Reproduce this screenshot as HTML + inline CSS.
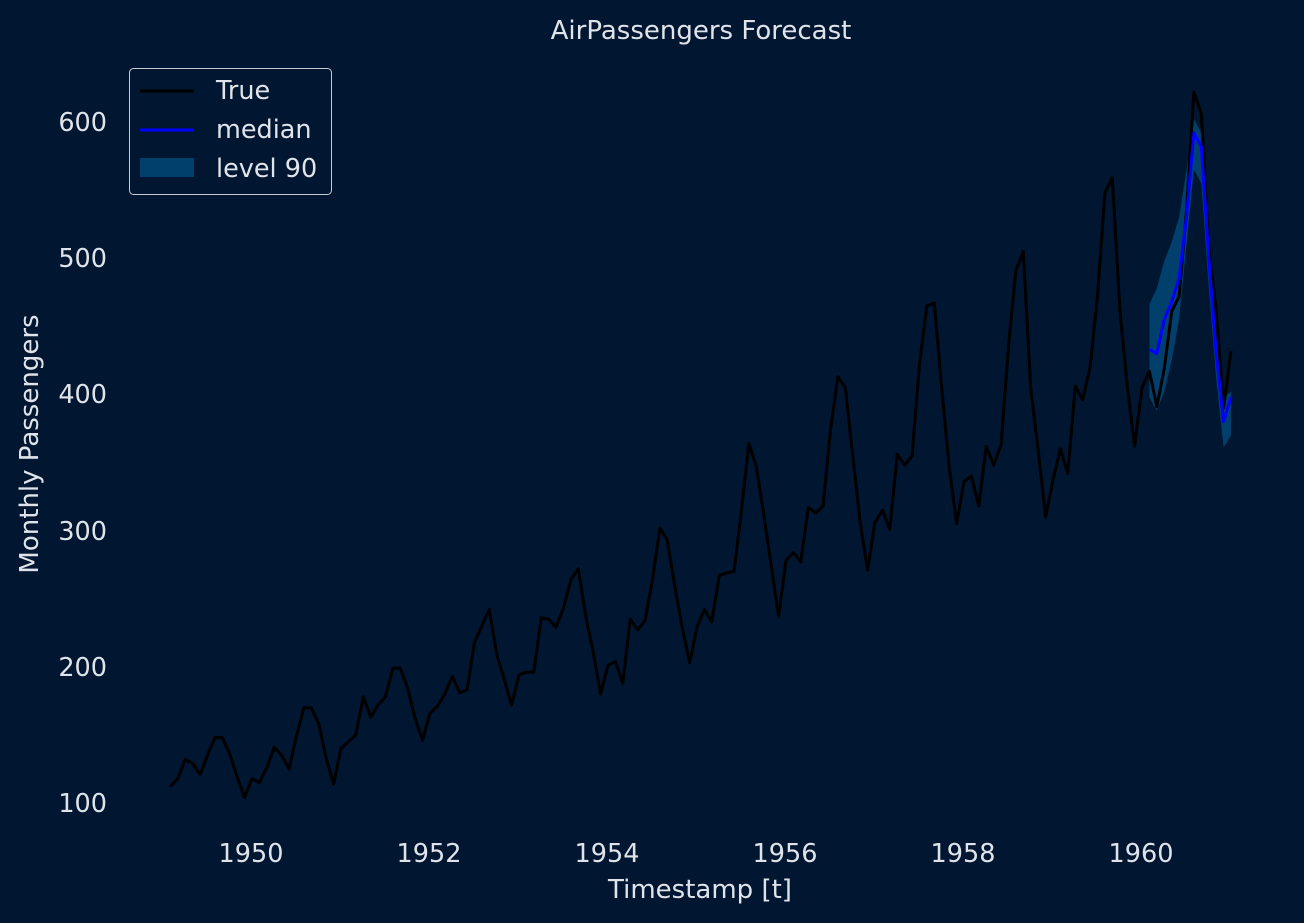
<!DOCTYPE html>
<html><head><meta charset="utf-8">
<style>
html,body{margin:0;padding:0;background:#001631;}
svg{display:block;font-family:"DejaVu Sans","Liberation Sans",sans-serif;}
</style></head>
<body>
<svg id="s" width="1304" height="923" viewBox="0 0 1304 923" xmlns="http://www.w3.org/2000/svg">
<rect width="1304" height="923" fill="#001631"/>
<text x="701" y="39" fill="#e0e4ea" font-size="26" text-anchor="middle">AirPassengers Forecast</text>
<g fill="#e0e4ea" font-size="25.5" text-anchor="end">
<text x="107" y="131">600</text>
<text x="107" y="267">500</text>
<text x="107" y="403">400</text>
<text x="107" y="540">300</text>
<text x="107" y="676">200</text>
<text x="107" y="812">100</text>
</g>
<g fill="#e0e4ea" font-size="25.5" text-anchor="middle">
<text x="251" y="862">1950</text>
<text x="429" y="862">1952</text>
<text x="607" y="862">1954</text>
<text x="785" y="862">1956</text>
<text x="963" y="862">1958</text>
<text x="1141" y="862">1960</text>
</g>
<text x="700" y="898" fill="#e0e4ea" font-size="26" text-anchor="middle">Timestamp [t]</text>
<text transform="translate(38,444) rotate(-90)" fill="#e0e4ea" font-size="26" text-anchor="middle">Monthly Passengers</text>
<polygon id="band" fill="#01406c"/>
<polyline id="tru" fill="none" stroke="#000" stroke-width="3" stroke-linejoin="round"/>
<polyline id="med" fill="none" stroke="#0000ff" stroke-width="3" stroke-linejoin="round"/>
<rect x="129.5" y="68.5" width="202" height="126" rx="4" fill="#001631" stroke="#c8ccd2" stroke-width="1"/>
<line x1="140" y1="91" x2="194" y2="91" stroke="#000" stroke-width="3"/>
<line x1="140" y1="130" x2="194" y2="130" stroke="#0000ff" stroke-width="3"/>
<rect x="140" y="158" width="54" height="19" fill="#01406c"/>
<g fill="#e0e4ea" font-size="25.5">
<text x="216" y="99">True</text>
<text x="216" y="138">median</text>
<text x="216" y="177">level 90</text>
</g>
</svg>
<script>
var d=[112,118,132,129,121,135,148,148,136,119,104,118,115,126,141,135,125,149,170,170,158,133,114,140,145,150,178,163,172,178,199,199,184,162,146,166,171,180,193,181,183,218,230,242,209,191,172,194,196,196,236,235,229,243,264,272,237,211,180,201,204,188,235,227,234,264,302,293,259,229,203,229,242,233,267,269,270,315,364,347,312,274,237,278,284,277,317,313,318,374,413,405,355,306,271,306,315,301,356,348,355,422,465,467,404,347,305,336,340,318,362,348,363,435,491,505,404,359,310,337,360,342,406,396,420,472,548,559,463,407,362,405,417,391,419,461,472,535,622,606,508,461,390,432];
function X(i){return 163+(i+1)*89.0/12;}
function Y(v){return 803-(v-100)*1.362;}
var p=d.map(function(v,i){return X(i).toFixed(1)+","+Y(v).toFixed(1)}).join(" ");
document.getElementById("tru").setAttribute("points",p);
var med=[433,430,455,468,485,530,592,582,500,430,380,398];
var up=[466,478,498,512,530,565,602,592,512,442,398,402];
var lo=[398,388,402,425,455,510,565,555,478,412,361,370];
document.getElementById("med").setAttribute("points",med.map(function(v,i){return X(132+i).toFixed(1)+","+Y(v).toFixed(1)}).join(" "));
var b=up.map(function(v,i){return X(132+i).toFixed(1)+","+Y(v).toFixed(1)});
for(var i=11;i>=0;i--)b.push(X(132+i).toFixed(1)+","+Y(lo[i]).toFixed(1));
document.getElementById("band").setAttribute("points",b.join(" "));
</script>
</body></html>
